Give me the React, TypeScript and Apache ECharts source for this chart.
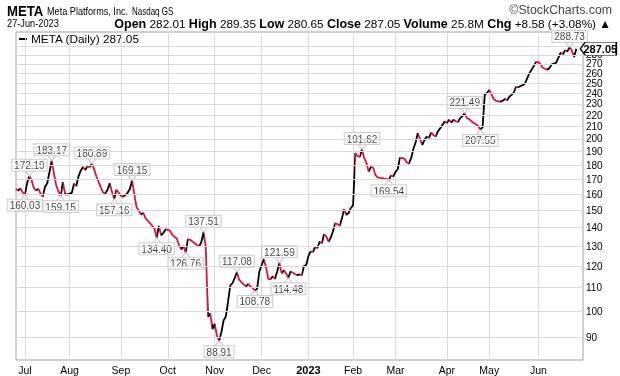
import { useEffect, useRef } from "react";
import * as echarts from "echarts";

const START_DATE = "2022-06-27";
const END_DATE = "2023-06-30";
const HOLIDAYS = [
  "2022-07-04", "2022-09-05", "2022-11-24", "2022-12-26", "2023-01-02",
  "2023-01-16", "2023-02-20", "2023-04-07", "2023-05-29", "2023-06-19",
];

const closes = [
  163.5, 162.5, 163.8, 161.3, 160.03, 167.5, 172.19, 169.3, 164, 162.6,
  163.5, 160.5, 158.6, 165, 167.3, 175, 183.17, 174, 166, 162,
  159.15, 168, 160, 160, 160.5, 161, 167, 165.5, 172, 176,
  178.5, 176.5, 179, 178.5, 180.89, 177, 172, 168, 164.5, 161.2,
  160.6, 163, 167.3, 161.5, 157.16, 163, 161, 159, 158.6, 159.6,
  161, 163.5, 169.15, 160, 152, 150, 147.5, 148.5, 145.5, 144,
  142.5, 141.2, 139.5, 134.4, 141, 135.7, 137, 139, 138.7, 138.3,
  136, 135, 134, 130.6, 128.3, 130, 126.76, 133.6, 133.3, 132.5,
  131.5, 130.6, 129.8, 132, 137.51, 129.82, 97.94, 99.2, 93.16, 95.2,
  90.79, 88.91, 92, 96.5, 98, 104, 111, 112, 114.5, 117.08,
  113.5, 112.5, 111.5, 110.5, 111.8, 110.5, 110, 108.78, 109.5, 117.4,
  120.4, 123.3, 119.6, 114, 113.8, 115.2, 114, 117.4, 121.59, 116.5,
  118, 116.5, 114.48, 117.4, 116.8, 116.2, 115.7, 116, 115.6, 120,
  120.5, 125, 127.2, 127, 129.5, 129, 132.3, 131.5, 136.3, 135.2,
  132.3, 134.5, 138, 142.5, 142, 141, 145.3, 150.8, 147.4, 148.4,
  151.5, 153.1, 188.8, 186.5, 186, 191.62, 185, 181.4, 175.3, 178.6,
  178, 173, 171.3, 171, 170.8, 170.5, 170.3, 169.54, 172.5, 172,
  175, 177, 185.3, 185, 184.6, 182, 181, 185, 192, 197,
  204.5, 199.8, 195.2, 199, 201.8, 200.6, 205, 203, 201.8, 206,
  208.5, 211.4, 214.3, 213, 215.8, 213.6, 215.8, 214.5, 214, 217.4,
  219, 221.49, 217.3, 216.5, 214.5, 213, 212, 210.5, 207.55, 209.4,
  238.6, 240.3, 243.3, 239, 234.6, 233, 232.5, 232.2, 232.8, 234.6,
  233.5, 236.7, 238.5, 240.8, 246.4, 246, 247.2, 248, 249.6, 255.1,
  260.3, 264, 268, 272.2, 271.9, 269.5, 266, 264.9, 263.8, 265.6,
  269.6, 270.5, 271.5, 277, 282.6, 280.7, 285.2, 284, 288.73, 285,
  277.8, 287.05,
];

const peakIdx = [6, 16, 34, 52, 84, 99, 118, 155, 201, 248];
const troughIdx = [4, 20, 44, 63, 76, 91, 107, 122, 167, 208];
const yGrid = [90, 100, 110, 120, 130, 140, 150, 160, 170, 180, 190, 200, 210, 220, 230, 240, 250, 260, 270, 280, 290];
const yHiddenLabels = [290];
const MONTHS = ["Jan", "Feb", "Mar", "Apr", "May", "Jun", "Jul", "Aug", "Sep", "Oct", "Nov", "Dec"];

const Y_MIN = 82.3;
const Y_MAX = 307;
const UP = "#000000";
const DOWN = "#d7143c";
const FONT = "Liberation Sans, Arial, sans-serif";

function tradingDays(start: string, end: string, holidays: string[]) {
  const out: string[] = [];
  const d = new Date(start + "T00:00:00Z");
  const e = new Date(end + "T00:00:00Z");
  while (d <= e) {
    const wd = d.getUTCDay();
    const s = d.toISOString().slice(0, 10);
    if (wd !== 0 && wd !== 6 && !holidays.includes(s)) out.push(s);
    d.setUTCDate(d.getUTCDate() + 1);
  }
  return out;
}

export default function App() {
  const ref = useRef<HTMLDivElement>(null);
  useEffect(() => {
    if (!ref.current) return;
    const chart = echarts.init(ref.current, null, { renderer: "svg" });
    const dates = tradingDays(START_DATE, END_DATE, HOLIDAYS);
    const monthStart = new Set<number>();
    for (let i = 1; i < dates.length; i++) {
      if (dates[i].slice(5, 7) !== dates[i - 1].slice(5, 7)) monthStart.add(i);
    }
    const isMonthStart = (i: number) => monthStart.has(i);

    const pieces: any[] = [{ lte: 0, color: UP }];
    for (let i = 1; i < closes.length; i++) {
      pieces.push({ gt: i - 1, lte: i, color: closes[i] >= closes[i - 1] ? UP : DOWN });
    }
    pieces.push({ gt: closes.length - 1, color: UP });

    const last = closes.length - 1;
    const boxLabel = {
      show: true,
      backgroundColor: "#fff",
      borderColor: "#c4c4c4",
      borderWidth: 1,
      padding: [1, 2, 0, 2],
      fontSize: 10,
      lineHeight: 10,
      color: "#111",
      fontFamily: FONT,
      distance: 0,
      formatter: (p: any) => Number(p.value[1]).toFixed(2),
    };
    const connStyle = { color: "rgba(0,0,0,0)", borderColor: "#bdbdbd", borderWidth: 1 };

    chart.setOption({
      animation: false,
      textStyle: { fontFamily: FONT },
      grid: { left: 16, right: 37, top: 32, bottom: 16, show: true, borderColor: "#a0a0a0", borderWidth: 1 },
      xAxis: {
        type: "category",
        data: dates,
        boundaryGap: false,
        axisLine: { show: false },
        axisTick: { show: false },
        axisLabel: {
          interval: (i: number) => isMonthStart(i),
          color: "#000",
          fontSize: 10.5,
          margin: 4,
          fontFamily: FONT,
          formatter: (v: string) => {
            const m = Number(v.slice(5, 7));
            return m === 1 ? "{y|" + v.slice(0, 4) + "}" : MONTHS[m - 1];
          },
          rich: { y: { fontWeight: "bold", fontSize: 11, color: "#000", fontFamily: FONT } },
        },
        splitLine: { show: true, interval: (i: number) => isMonthStart(i), lineStyle: { color: "#dadada", width: 1 } },
      },
      yAxis: {
        type: "log",
        logBase: 10,
        min: Y_MIN,
        max: Y_MAX,
        position: "right",
        axisLine: { show: false },
        axisTick: { show: false },
        axisLabel: { show: false },
        splitLine: { show: false },
      },
      visualMap: {
        type: "piecewise",
        show: false,
        dimension: 0,
        seriesIndex: 0,
        pieces,
      },
      series: [
        {
          type: "line",
          name: "META",
          data: closes,
          showSymbol: false,
          lineStyle: { width: 1.8 },
          z: 3,
          markLine: {
            silent: true,
            symbol: ["none", "none"],
            lineStyle: { color: "#dadada", type: "solid", width: 1 },
            label: {
              position: "end",
              distance: 3,
              color: "#000",
              fontSize: 10,
              lineHeight: 8,
              fontFamily: FONT,
              formatter: (p: any) => String(p.value),
            },
            data: yGrid.map((v) => ({
              yAxis: v,
              label: { show: !yHiddenLabels.includes(v) },
            })),
          },
          markPoint: {
            z: 10,
            silent: true,
            data: [
              {
                coord: [dates[last], closes[last]],
                symbol: "path://M0,6L5,0L36,0L36,12L5,12Z",
                symbolSize: [36, 13],
                symbolOffset: [22, 0],
                itemStyle: { color: "#fff", borderColor: "#000", borderWidth: 1 },
                label: {
                  show: true,
                  position: "inside",
                  offset: [2, 0],
                  formatter: closes[last].toFixed(2),
                  fontWeight: "bold",
                  fontSize: 11,
                  lineHeight: 11,
                  color: "#000",
                  fontFamily: FONT,
                },
              },
            ],
          },
        },
        {
          type: "scatter",
          z: 4,
          silent: true,
          data: peakIdx.map((i) => [i, closes[i]]),
          symbol: "path://M0,0L4,6L8,0",
          symbolSize: [8, 5],
          symbolOffset: [0, -2.5],
          itemStyle: connStyle,
          label: { ...boxLabel, position: "top" },
        },
        {
          type: "scatter",
          z: 4,
          silent: true,
          data: troughIdx.map((i) => [i, closes[i]]),
          symbol: "path://M0,6L4,0L8,6",
          symbolSize: [8, 5],
          symbolOffset: [0, 2.5],
          itemStyle: connStyle,
          label: { ...boxLabel, position: "bottom" },
        },
      ],
      graphic: [
        {
          type: "text",
          x: 7,
          y: 3,
          scaleX: 0.88,
          style: { text: "META", fontSize: 15, fontWeight: "bold", fill: "#000", fontFamily: FONT },
        },
        {
          type: "text",
          x: 47,
          y: 6,
          scaleX: 0.83,
          style: { text: "Meta Platforms, Inc.", fontSize: 11, fill: "#000", fontFamily: FONT },
        },
        {
          type: "text",
          x: 132,
          y: 7,
          scaleX: 0.8,
          style: { text: "Nasdaq GS", fontSize: 10, fill: "#000", fontFamily: FONT },
        },
        {
          type: "text",
          right: 8,
          top: 4,
          style: { text: "©StockCharts.com", fontSize: 12.3, fill: "#444", fontFamily: FONT },
        },
        {
          type: "text",
          x: 7,
          y: 18,
          scaleX: 0.84,
          style: { text: "27-Jun-2023", fontSize: 11, fill: "#000", fontFamily: FONT },
        },
        {
          type: "text",
          right: 9,
          top: 17,
          style: {
            text: "{l|Open} 282.01 {l|High} 289.35 {l|Low} 280.65 {l|Close} 287.05 {l|Volume} 25.8M {l|Chg} +8.58 (+3.08%) ▲",
            fontSize: 11.8,
            fill: "#000",
            fontFamily: FONT,
            rich: { l: { fontWeight: "bold", fontSize: 12.5, fill: "#000", fontFamily: FONT } },
          },
        },
        { type: "line", shape: { x1: 19, y1: 39, x2: 27, y2: 39 }, style: { stroke: "#000", lineWidth: 2 } },
        {
          type: "text",
          left: 31,
          top: 33,
          style: { text: "META (Daily) 287.05", fontSize: 11.8, fill: "#000", fontFamily: FONT },
        },
      ],
    });
    return () => chart.dispose();
  }, []);
  return <div ref={ref} style={{ position: "fixed", left: 0, top: 0, width: 620, height: 376 }} />;
}
